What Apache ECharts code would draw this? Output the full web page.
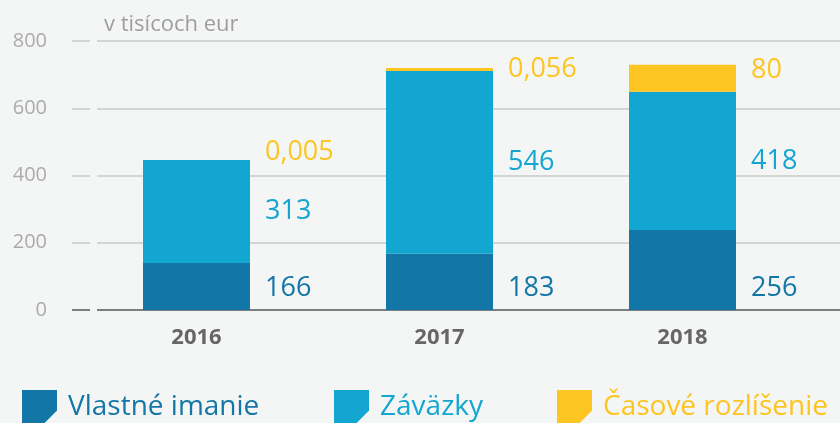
<!DOCTYPE html>
<html>
<head>
<meta charset="utf-8">
<script src="https://cdn.jsdelivr.net/npm/echarts@6/dist/echarts.min.js"></script>
<style>
html, body { margin: 0; padding: 0; background: #f4f5f5; }
#chart { width: 840px; height: 423px; }
</style>
</head>
<body>
<div id="chart"></div>
<script>
var years = ['2016', '2017', '2018'];
var seriesNames = ['Vlastné imanie', 'Záväzky', 'Časové rozlíšenie'];
// bar heights as they are drawn in the source
var equity = [140, 167, 238];
var liabilities = [306, 544, 411];
var accruals = [0.005, 9, 80];
// values printed next to the bars
var equityLabels = ['166', '183', '256'];
var liabilitiesLabels = ['313', '546', '418'];
var accrualsLabels = ['0,005', '0,056', '80'];
var yMin = 0, yMax = 800, yStep = 200;

var colors = ['#1277a6', '#12a6d1', '#fdc521'];
var lineColors = ['#555555', '#c8c8c8', '#c8c8c8', '#c8c8c8', '#c8c8c8'];
var font = '"Open Sans", sans-serif';
var iconPath = 'path://M0,0H34V20L20,34H0Z';

var chart = echarts.init(document.getElementById('chart'), null, {renderer: 'canvas'});

function valueAxis(gridIndex, showLabels) {
    return {
        type: 'value', gridIndex: gridIndex, min: yMin, max: yMax, interval: yStep,
        axisLine: {show: false}, axisTick: {show: false},
        axisLabel: {show: showLabels, margin: 50, color: '#ababab', fontSize: 20, fontFamily: font},
        splitLine: {show: gridIndex !== 2, lineStyle: {color: lineColors, width: 1.5}}
    };
}

function makeLabel(texts, extra) {
    var l = {
        show: true, position: 'right', distance: 15,
        fontSize: 27, fontFamily: font,
        formatter: function (p) { return texts[p.dataIndex]; }
    };
    for (var k in extra) l[k] = extra[k];
    return l;
}

var accrualsNudge = [-8, 0, -8];

var option = {
    backgroundColor: '#f4f5f5',
    animation: false,
    title: {
        text: 'v tisícoch eur', left: 99, top: 9,
        textStyle: {color: '#9e9e9e', fontSize: 22, fontWeight: 'normal', fontFamily: font}
    },
    grid: [
        {left: 97, right: 0, top: 41, bottom: 113},
        {left: 72, width: 18, top: 41, bottom: 113},
        {left: 75, right: 36, top: 41, bottom: 113}
    ],
    xAxis: [
        {type: 'value', gridIndex: 0, show: false},
        {type: 'value', gridIndex: 1, show: false},
        {
            type: 'category', gridIndex: 2, data: years,
            axisLine: {show: false}, axisTick: {show: false},
            axisLabel: {margin: 17, color: '#666666', fontSize: 22, fontWeight: 'bold', fontFamily: font}
        }
    ],
    yAxis: [valueAxis(0, true), valueAxis(1, false), valueAxis(2, false)],
    legend: seriesNames.map(function (name, i) {
        return {
            left: [22, 334, 557][i], top: 390, padding: 0,
            itemWidth: 35, itemHeight: 35, icon: iconPath,
            selectedMode: false,
            data: [{name: name, textStyle: {color: colors[i]}}],
            textStyle: {fontSize: 28, fontFamily: font, padding: [6, 0, 0, 6]}
        };
    }),
    series: [
        {
            name: seriesNames[0], type: 'bar', stack: 'total', xAxisIndex: 2, yAxisIndex: 2,
            barWidth: 107, data: equity, itemStyle: {color: colors[0]},
            label: makeLabel(equityLabels, {color: colors[0], position: ['100%', '100%'], offset: [15, -22], align: 'left', verticalAlign: 'middle'})
        },
        {
            name: seriesNames[1], type: 'bar', stack: 'total', xAxisIndex: 2, yAxisIndex: 2,
            barWidth: 107, data: liabilities, itemStyle: {color: colors[1]},
            label: makeLabel(liabilitiesLabels, {color: colors[1]})
        },
        {
            name: seriesNames[2], type: 'bar', stack: 'total', xAxisIndex: 2, yAxisIndex: 2,
            barWidth: 107, itemStyle: {color: colors[2]},
            data: accruals.map(function (v, i) {
                return {value: v, label: {offset: [0, accrualsNudge[i]]}};
            }),
            label: makeLabel(accrualsLabels, {color: colors[2]})
        }
    ]
};

chart.setOption(option);
</script>
</body>
</html>
